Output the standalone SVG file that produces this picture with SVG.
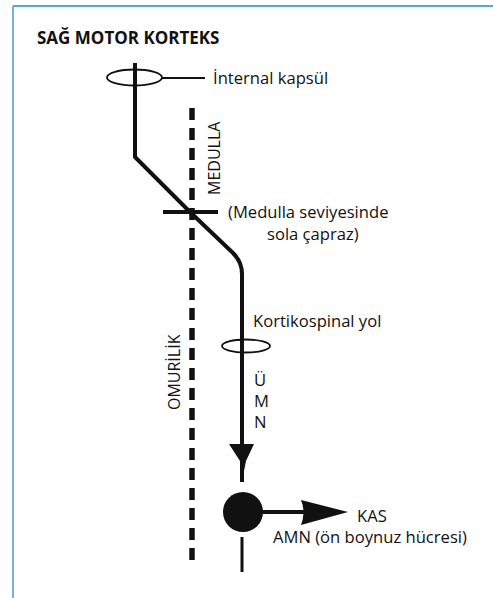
<svg xmlns="http://www.w3.org/2000/svg" width="493" height="598" viewBox="0 0 493 598">
<style>
.t{font-family:"Open Sans","Liberation Sans",sans-serif;font-size:16.6px;fill:#111}
.r{font-family:"Open Sans","Liberation Sans",sans-serif;font-size:16px;fill:#111}
.b{font-family:"Open Sans","Liberation Sans",sans-serif;font-size:17px;font-weight:bold;fill:#111}
.ln{fill:none;stroke:#111;stroke-linecap:butt;stroke-linejoin:round}
.el{fill:none;stroke:#111;stroke-width:1.8}
.fill{fill:#111;stroke:none}
</style>
<g id="frame">
<line x1="13" y1="6" x2="493" y2="6" stroke="#1a88d8" stroke-width="1.6"/>
<line x1="13" y1="6" x2="13" y2="598" stroke="#5a9fd0" stroke-width="1.6"/>
</g>
<g id="title"><text class="b" x="37" y="44">SAĞ MOTOR KORTEKS</text></g>
<g id="connectors">
<path class="ln" stroke-width="4" d="M135,63 L135,157 L190,212 L233,253 Q242,262 242,274 L242,482"/>
<path class="fill" d="M229,444 L254,444 L246,461 L243,476 L240,461 Z"/>
<line class="ln" stroke-width="4" x1="163" y1="212" x2="218" y2="212"/>
<line class="ln" stroke-width="2" x1="162" y1="78" x2="205" y2="78"/>
<line class="ln" stroke-width="4" x1="260" y1="512" x2="305" y2="512"/>
<path class="fill" d="M301,500 L348,512 L301,525 Q306,512 301,500 Z"/>
<line class="ln" stroke-width="3" x1="242" y1="537" x2="242" y2="572"/>
<line class="ln" stroke-width="5.5" stroke-dasharray="12 8" x1="192" y1="108" x2="192" y2="560"/>
</g>
<g id="internal-kapsul">
<ellipse class="el" cx="134.5" cy="77.5" rx="27.5" ry="8"/>
<text class="t" x="213" y="84">İnternal kapsül</text>
</g>
<g id="medulla">
<text class="r" transform="translate(220,195) rotate(-90)">MEDULLA</text>
</g>
<g id="omurilik">
<text class="r" transform="translate(180,410) rotate(-90)">OMURİLİK</text>
</g>
<g id="capraz">
<text class="t" x="228" y="218">(Medulla seviyesinde</text>
<text class="t" x="267" y="240">sola çapraz)</text>
</g>
<g id="kortikospinal">
<ellipse class="el" cx="246" cy="346" rx="24" ry="6.5"/>
<text class="t" x="253" y="327">Kortikospinal yol</text>
</g>
<g id="umn">
<text class="t" x="254" y="386">Ü</text>
<text class="t" x="254" y="407">M</text>
<text class="t" x="254" y="428">N</text>
</g>
<g id="amn">
<circle class="fill" cx="243" cy="512" r="20"/>
<text class="t" x="357" y="522">KAS</text>
<text class="t" x="273" y="543">AMN (ön boynuz hücresi)</text>
</g>
</svg>
